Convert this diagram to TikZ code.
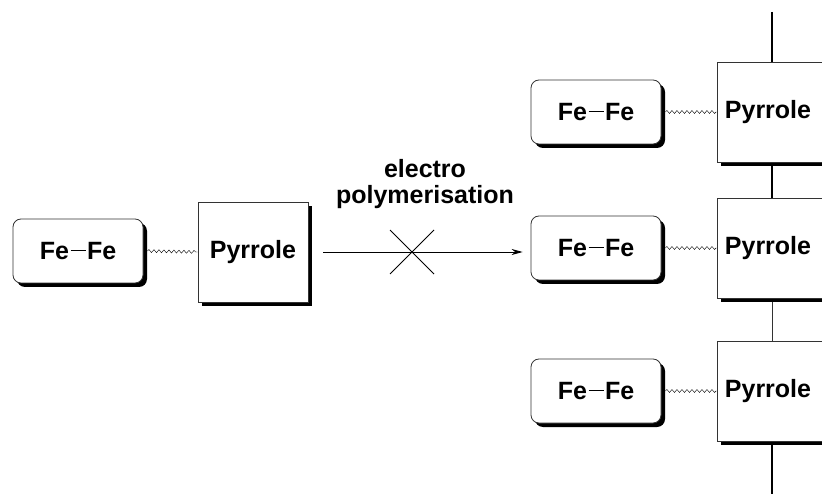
\documentclass[tikz,border=0pt]{standalone}
\usepackage{fontspec}
\setmainfont{Liberation Sans}
\usetikzlibrary{arrows.meta,shadows,decorations.pathmorphing}
\newcommand{\bond}{\kern1.5pt\rule[8pt]{15pt}{1.6pt}\kern1.5pt}
\tikzset {
  >=Stealth,
  every node/.style={font=\fontsize{25}{26}\selectfont\bfseries},
  shade box/.style={draw=black!80,line width=0.8pt,fill=white,
    drop shadow={shadow xshift=4pt,shadow yshift=-4pt,fill=black,opacity=1}},
  iron/.style={shade box,rounded corners=8pt,minimum width=130pt,minimum height=64pt},
  pyrrole/.style={shade box,minimum width=110pt,minimum height=100pt},
  wave/.style={decorate,decoration={snake,amplitude=1.5pt,segment length=5pt}},
}

\begin{document}
\begin{tikzpicture}[x=1pt,y=-1pt]
  \useasboundingbox (0,0) rectangle (822,494);
  \clip (0,0) rectangle (822,494);
  % monomer
  \node[iron] (fe0) at (78,251) {Fe\bond Fe};
  \node[pyrrole] (py0) at (253,252) {Pyrrole};
  \draw[wave] ([xshift=4pt]fe0.east) -- (py0.west);
  % polymer chain
  \foreach \i/\y in {1/112,2/248,3/391} {
    \node[iron] (fe\i) at (596,\y) {Fe\bond Fe};
    \node[pyrrole] (py\i) at (772,\y) {\hspace*{-8pt}Pyrrole};
    \draw[wave] ([xshift=4pt]fe\i.east) -- (py\i.west);
  }
  \coordinate (top) at (772,12);
  \coordinate (bottom) at (772,500);
  \draw[line width=1.2pt] (top) -- (py1.north);
  \draw[line width=1.2pt] ([yshift=-4pt]py1.south) -- (py2.north);
  \draw[line width=0.9pt,black!80] ([yshift=-4pt]py2.south) -- (py3.north);
  \draw[line width=1.2pt] ([yshift=-4pt]py3.south) -- (bottom);
  % reaction arrow
  \draw[-{Stealth[length=11pt,width=6pt]},line width=0.8pt] ([xshift=15pt]py0.east) -- ([xshift=-8pt]py0.east -| fe2.west);
  \coordinate (cross) at (412,252);
  \draw[line width=0.8pt] ([shift={(-22,-22)}]cross) -- ([shift={(22,22)}]cross)
    ([shift={(-22,22)}]cross) -- ([shift={(22,-22)}]cross);
  \node[align=center] (label) at (425,184) {electro\\polymerisation};
\end{tikzpicture}
\end{document}
